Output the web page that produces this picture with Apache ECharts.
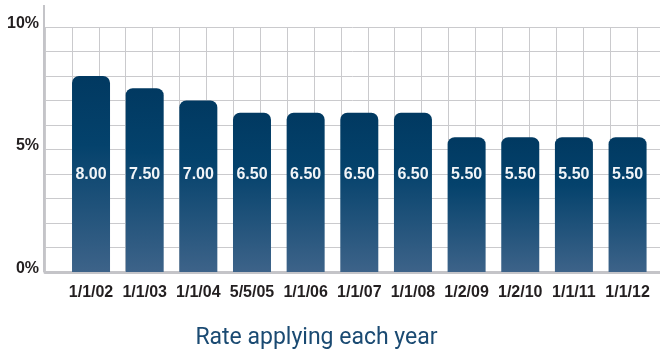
<!DOCTYPE html>
<html><head><meta charset="utf-8">
<script src="https://cdn.jsdelivr.net/npm/echarts@6/dist/echarts.min.js"></script>
<style>html,body{margin:0;padding:0;background:#fff}#c{width:660px;height:353px}</style>
</head><body><div id="c"></div>
<script>
var categories = ['1/1/02','1/1/03','1/1/04','5/5/05','1/1/06','1/1/07','1/1/08','1/2/09','1/2/10','1/1/11','1/1/12'];
var rates = [8.00, 7.50, 7.00, 6.50, 6.50, 6.50, 6.50, 5.50, 5.50, 5.50, 5.50];
var yTickLabels = {0:'0%', 5:'5%', 10:'10%'};
var title = 'Rate applying each year';

var chart = echarts.init(document.getElementById('c'), null, {renderer:'canvas'});
var gridColor = '#cacacd';
chart.setOption({
  animation:false,
  graphic:[
    {type:'line',shape:{x1:44,y1:5,x2:44,y2:272},style:{stroke:'#c4c4c8',lineWidth:2},z:5},
    {type:'text',x:316.5,y:338,style:{text:title,align:'center',verticalAlign:'middle',fontFamily:'Roboto',fontSize:23,fill:'#1a4a72'},z:5}
  ],
  grid:[
    {left:45,right:0,top:27,bottom:81},
    {left:64.2,right:5.6,top:27,bottom:81}
  ],
  xAxis:[
    {type:'value',gridIndex:0,min:0,max:22.86,interval:1,
     axisLine:{show:true,lineStyle:{color:'#c4c4c8',width:3}},
     axisTick:{show:true,length:2,lineStyle:{color:'#c4c4c8'}},
     axisLabel:{show:false},
     splitLine:{show:true,lineStyle:{color:gridColor,width:1}}},
    {type:'category',gridIndex:1,data:categories,
     axisLine:{show:false},axisTick:{show:false},
     axisLabel:{interval:0,margin:13,fontFamily:'Liberation Sans',fontWeight:'bold',fontSize:16,color:'#231f20'}}
  ],
  yAxis:[
    {type:'value',gridIndex:0,min:0,max:10,interval:1,
     axisLine:{show:false},axisTick:{show:false},
     axisLabel:{show:true,margin:6,fontFamily:'Liberation Sans',fontWeight:'bold',fontSize:16,color:'#231f20',
       verticalAlign:'bottom',lineHeight:7,
       formatter:function(v){return yTickLabels[v]!==undefined?yTickLabels[v]:'';}},
     splitLine:{show:true,lineStyle:{color:gridColor,width:1}}},
    {type:'value',gridIndex:1,min:0,max:10,show:false}
  ],
  series:[{
    type:'bar',xAxisIndex:1,yAxisIndex:1,data:rates,barWidth:38,z:10,
    itemStyle:{borderRadius:[7,7,0,0],
      color:new echarts.graphic.LinearGradient(0,0,0,1,[
        {offset:0,color:'#013961'},{offset:0.35,color:'#04426c'},{offset:1,color:'#3d6389'}])},
    label:{show:true,position:'insideBottom',distance:89,
      formatter:function(p){return p.value.toFixed(2);},
      fontFamily:'Liberation Sans',fontWeight:'bold',fontSize:16,color:'#f2f5f8'}
  }]
});
</script></body></html>
